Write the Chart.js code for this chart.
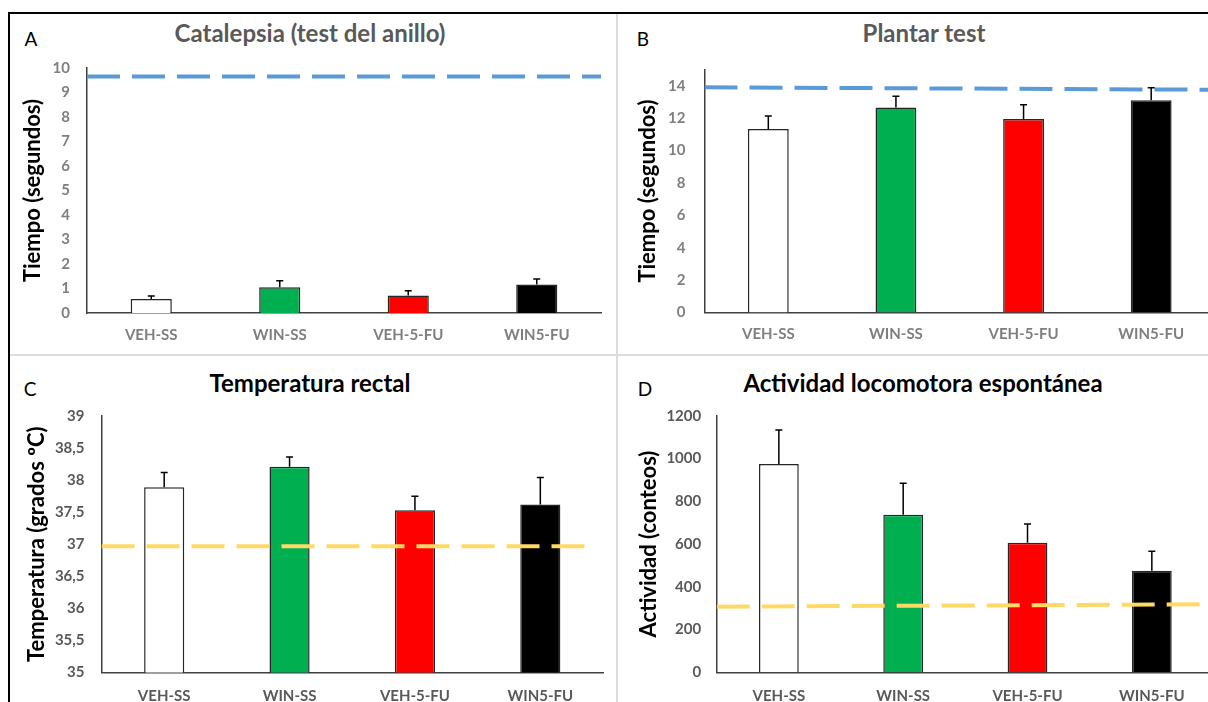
<!DOCTYPE html>
<html lang="es">

<head>
    <meta charset="UTF-8">
    <script src="https://cdn.jsdelivr.net/npm/chart.js@4.4.0/dist/chart.umd.min.js"></script>
    <title>Figura</title>
    <style>
        body { margin: 0; background: #fff; font-family: Lato, sans-serif; }
        #page { position: relative; width: 1208px; height: 702px; overflow: hidden; }
        .box { position: absolute; }
        .txt { position: absolute; transform: translate(-50%, -50%); white-space: nowrap; line-height: 1; }
        .title { font-weight: bold; font-size: 24px; }
        .letter { font-size: 19px; color: #000; }
        .rule { position: absolute; }
    </style>
</head>

<body>
    <div id="page">
        <div class="box" style="left:9px;top:50px;width:605px;height:305px"><canvas id="chartA"></canvas></div>
        <div class="box" style="left:614px;top:50px;width:604px;height:305px"><canvas id="chartB"></canvas></div>
        <div class="box" style="left:9px;top:400px;width:605px;height:330px"><canvas id="chartC"></canvas></div>
        <div class="box" style="left:614px;top:400px;width:604px;height:330px"><canvas id="chartD"></canvas></div>

        <div class="txt letter" style="left:31px;top:38px">A</div>
        <div class="txt letter" style="left:643px;top:38px">B</div>
        <div class="txt letter" style="left:30px;top:388px">C</div>
        <div class="txt letter" style="left:645px;top:388px">D</div>

        <div class="txt title" style="left:310px;top:33px;color:#595959">Catalepsia (test del anillo)</div>
        <div class="txt title" style="left:924px;top:33px;color:#595959">Plantar test</div>
        <div class="txt title" style="left:310px;top:383px;color:#000">Temperatura rectal</div>
        <div class="txt title" style="left:923px;top:383px;color:#000">Actividad locomotora espontánea</div>

        <!-- frame and panel separators -->
        <div class="rule" style="left:8px;top:12px;width:1200px;height:2px;background:#000"></div>
        <div class="rule" style="left:8px;top:12px;width:2px;height:690px;background:#000"></div>
        <div class="rule" style="left:10px;top:354px;width:1198px;height:2px;background:#dcdcdc"></div>
        <div class="rule" style="left:616px;top:14px;width:2px;height:688px;background:#dcdcdc"></div>
    </div>

    <script>
        const categories = ['VEH-SS', 'WIN-SS', 'VEH-5-FU', 'WIN5-FU'];
        const barColors = ['#ffffff', '#00b050', '#ff0000', '#000000'];

        // A - catalepsia
        const catalepsiaMean = [0.57, 1.05, 0.71, 1.16];
        const catalepsiaSem = [0.12, 0.27, 0.20, 0.23];
        const catalepsiaRef = [9.65, 9.65];
        const catalepsiaRange = [0, 10];
        const catalepsiaTickValues = [0, 1, 2, 3, 4, 5, 6, 7, 8, 9, 10];

        // B - plantar test
        const plantarMean = [11.33, 12.65, 11.95, 13.1];
        const plantarSem = [0.80, 0.70, 0.87, 0.77];
        const plantarRef = [13.9, 13.75];
        const plantarRange = [0, 15];
        const plantarTickValues = [0, 2, 4, 6, 8, 10, 12, 14];

        // C - temperatura
        const tempMean = [37.89, 38.21, 37.53, 37.62];
        const tempSem = [0.23, 0.15, 0.22, 0.42];
        const tempRef = [36.97, 36.97];
        const tempRange = [35, 39];
        const tempTickValues = [35, 35.5, 36, 36.5, 37, 37.5, 38, 38.5, 39];

        // D - actividad
        const actMean = [974, 737, 606, 475];
        const actSem = [159, 147, 87, 91];
        const actRef = [307, 318];
        const actRange = [0, 1200];
        const actTickValues = [0, 200, 400, 600, 800, 1000, 1200];

        // reference line runs along the category axis (in category units)
        const refSpanFull = [-0.5, 3.5];
        const refSpanC = [-0.5, 3.36];

        const errorBars = {
            id: 'errorBars',
            afterDatasetsDraw(chart, args, opts) {
                const meta = chart.getDatasetMeta(0);
                const vals = chart.data.datasets[0].data;
                const y = chart.scales.y;
                const ctx = chart.ctx;
                ctx.save();
                ctx.strokeStyle = '#000';
                ctx.lineWidth = 1.5;
                meta.data.forEach((bar, i) => {
                    const top = y.getPixelForValue(vals[i] + opts.sem[i]);
                    ctx.beginPath();
                    ctx.moveTo(bar.x, bar.y);
                    ctx.lineTo(bar.x, top);
                    ctx.moveTo(bar.x - 3.5, top);
                    ctx.lineTo(bar.x + 3.5, top);
                    ctx.stroke();
                });
                ctx.restore();
            }
        };

        function makeChart(id, p) {
            const ctx = document.getElementById(id).getContext('2d');
            return new Chart(ctx, {
                type: 'bar',
                data: {
                    labels: categories,
                    datasets: [{
                        type: 'bar',
                        data: p.mean,
                        backgroundColor: barColors,
                        borderColor: '#262626',
                        borderWidth: 1.5,
                        borderSkipped: 'bottom',
                        grouped: false,
                        categoryPercentage: 1,
                        barPercentage: 0.32,
                        order: 1
                    }, {
                        type: 'line',
                        xAxisID: 'xr',
                        data: [{ x: p.span[0], y: p.ref[0] }, { x: p.span[1], y: p.ref[1] }],
                        borderColor: p.refColor,
                        borderWidth: 4,
                        borderDash: [33, 12],
                        pointRadius: 0,
                        fill: false,
                        order: 0
                    }]
                },
                options: {
                    responsive: true,
                    maintainAspectRatio: false,
                    animation: false,
                    layout: { padding: { top: p.padTop, right: p.padRight, bottom: 0, left: 0 } },
                    plugins: {
                        legend: { display: false },
                        tooltip: { enabled: false },
                        errorBars: { sem: p.sem }
                    },
                    scales: {
                        x: {
                            grid: { display: false, drawTicks: false },
                            border: { display: true, color: '#404040', width: 1.5 },
                            ticks: {
                                color: p.labelColor,
                                padding: p.xPad,
                                font: { family: 'Lato', weight: 'bold', size: 15 }
                            },
                            afterFit: s => { s.height = p.xHeight; }
                        },
                        xr: {
                            type: 'linear',
                            display: false,
                            offset: false,
                            grid: { offset: false },
                            min: -0.5,
                            max: 3.5
                        },
                        y: {
                            min: p.range[0],
                            max: p.range[1],
                            grid: { display: false, drawTicks: false },
                            border: { display: true, color: '#404040', width: 1.5 },
                            afterBuildTicks: s => { s.ticks = p.tickValues.map(v => ({ value: v })); },
                            ticks: {
                                color: p.tickColor,
                                padding: p.yPad,
                                font: { family: 'Lato', weight: 'bold', size: 15 },
                                callback: v => String(v).replace('.', ',')
                            },
                            title: {
                                display: true,
                                text: p.yTitle,
                                color: '#000',
                                padding: { top: p.titlePad, bottom: 0 },
                                font: { family: 'Lato', weight: 'bold', size: 22 }
                            },
                            // fixed width, and no extra room reserved above/below for the end labels
                            afterFit: s => {
                                s.width = p.yWidth;
                                s.paddingTop = 0;
                                s.paddingBottom = 0;
                            }
                        }
                    }
                },
                plugins: [errorBars]
            });
        }

        function drawAll() {
            makeChart('chartA', {
                mean: catalepsiaMean, sem: catalepsiaSem, ref: catalepsiaRef, span: refSpanFull,
                refColor: '#5b9bd5', range: catalepsiaRange, tickValues: catalepsiaTickValues,
                yTitle: 'Tiempo (segundos)', tickColor: '#7f7f7f', labelColor: '#7f7f7f',
                padTop: 18, padRight: 13, yWidth: 78, xHeight: 42, yPad: 17, xPad: 13, titlePad: 11
            });

            makeChart('chartB', {
                mean: plantarMean, sem: plantarSem, ref: plantarRef, span: refSpanFull,
                refColor: '#5b9bd5', range: plantarRange, tickValues: plantarTickValues,
                yTitle: 'Tiempo (segundos)', tickColor: '#7f7f7f', labelColor: '#7f7f7f',
                padTop: 19.5, padRight: 3, yWidth: 90.5, xHeight: 42.5, yPad: 19, xPad: 13, titlePad: 21
            });

            makeChart('chartC', {
                mean: tempMean, sem: tempSem, ref: tempRef, span: refSpanC,
                refColor: '#ffd966', range: tempRange, tickValues: tempTickValues,
                yTitle: 'Temperatura (grados ºC)', tickColor: '#595959', labelColor: '#595959',
                padTop: 16, padRight: 11, yWidth: 92.5, xHeight: 57.5, yPad: 17, xPad: 15, titlePad: 15
            });

            makeChart('chartD', {
                mean: actMean, sem: actSem, ref: actRef, span: refSpanFull,
                refColor: '#ffd966', range: actRange, tickValues: actTickValues,
                yTitle: 'Actividad (conteos)', tickColor: '#595959', labelColor: '#595959',
                padTop: 15.7, padRight: 4, yWidth: 102.7, xHeight: 57.7, yPad: 15.5, xPad: 15, titlePad: 22
            });
        }

        Promise.all([
            document.fonts.load('bold 15px Lato'),
            document.fonts.load('bold 22px Lato')
        ]).then(drawAll, drawAll);
    </script>
</body>

</html>
